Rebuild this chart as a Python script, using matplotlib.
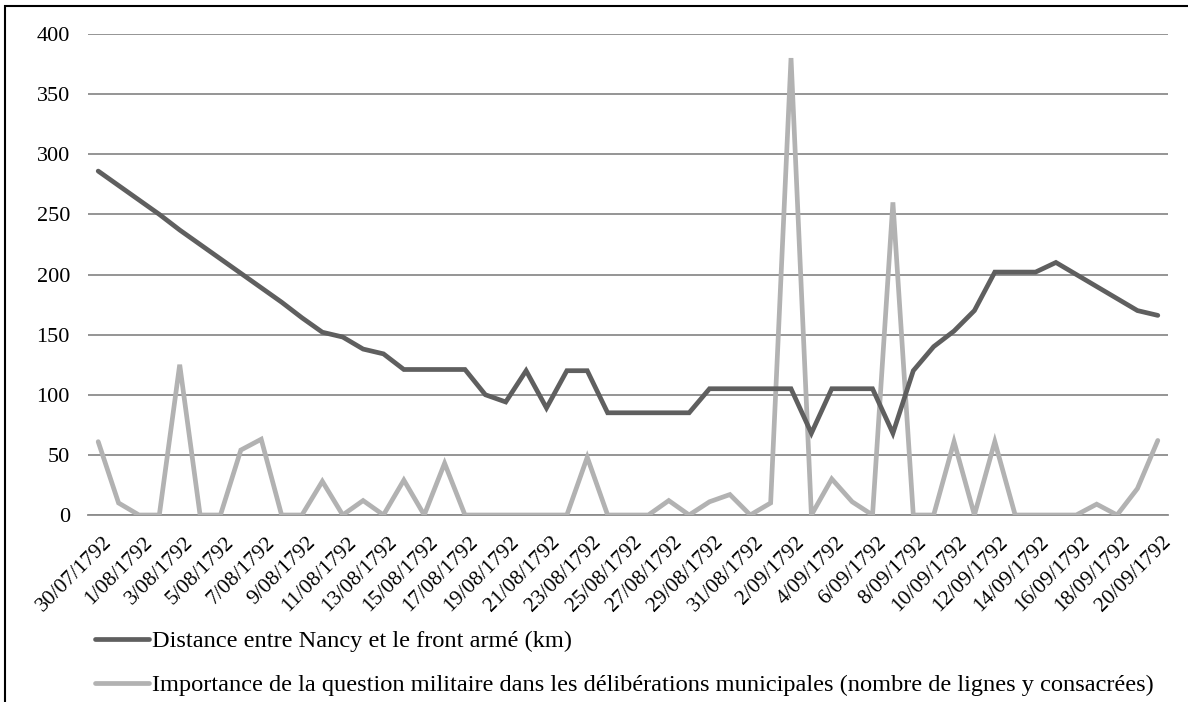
import matplotlib
matplotlib.use("Agg")
import matplotlib.pyplot as plt
import matplotlib.transforms as mtransforms
from matplotlib.lines import Line2D
from matplotlib.patches import Rectangle

dates = ["30/07/1792", "31/07/1792"] + [f"{d}/08/1792" for d in range(1, 32)] + [f"{d}/09/1792" for d in range(1, 21)]

distance = [286, 274, 262, 250, 237, 225, 213, 201, 189, 177, 164, 152, 148, 138, 134,
            121, 121, 121, 121, 100, 94, 120, 89, 120, 120, 85, 85, 85, 85, 85,
            105, 105, 105, 105, 105, 68, 105, 105, 105, 68, 120, 140, 153, 170,
            202, 202, 202, 210, 200, 190, 180, 170, 166]

military = [61, 10, 0, 0, 125, 0, 0, 54, 63, 0, 0, 28, 0, 12, 0, 29, 0, 43, 0, 0,
            0, 0, 0, 0, 48, 0, 0, 0, 12, 0, 11, 17, 0, 10, 380, 0, 30, 11, 0, 260,
            0, 0, 61, 0, 61, 0, 0, 0, 0, 9, 0, 22, 62]

label_distance = "Distance entre Nancy et le front armé (km)"
label_military = "Importance de la question militaire dans les délibérations municipales (nombre de lignes y consacrées)"

yticks = [0, 50, 100, 150, 200, 250, 300, 350, 400]

plt.rcParams['font.family'] = ['Liberation Serif', 'DejaVu Serif']

W, H = 1188, 702
fig = plt.figure(figsize=(W / 100, H / 100), dpi=100)
ax = fig.add_axes([88 / W, 1 - 515 / H, (1168 - 88) / W, (515 - 34) / H])

x = list(range(len(dates)))
dark = "#5f5f5f"
light = "#b2b2b2"
grid = "#8c8c8c"

ax.plot(x, military, color=light, lw=3.4, solid_capstyle="round", solid_joinstyle="miter", zorder=3)
ax.plot(x, distance, color=dark, lw=3.4, solid_capstyle="round", solid_joinstyle="miter", zorder=4)

ax.set_xlim(-0.5, len(dates) - 0.5)
ax.set_ylim(0, 400)
ax.set_yticks(yticks)
ax.set_yticklabels([str(v) for v in yticks], fontsize=16)
ax.yaxis.grid(True, color=grid, lw=1.3)
ax.set_axisbelow(True)
for s in ["top", "right", "left"]:
    ax.spines[s].set_visible(False)
ax.spines["bottom"].set_color(grid)
ax.spines["bottom"].set_linewidth(1.3)
ax.tick_params(axis="y", length=0, pad=13)
ax.tick_params(axis="x", length=0, pad=13)
ax.set_xticks(x[::2])
ax.set_xticklabels(dates[::2], rotation=45, ha="right", va="top", rotation_mode="anchor", fontsize=15.5)
offset = mtransforms.ScaledTranslation(4 / 100, 0, fig.dpi_scale_trans)
for lab in ax.get_xticklabels():
    lab.set_transform(lab.get_transform() + offset)

# legend
handles = [Line2D([0], [0], color=dark, lw=3.4, solid_capstyle="round"),
           Line2D([0], [0], color=light, lw=3.4, solid_capstyle="round")]
fig.legend(handles, [label_distance, label_military], loc="upper left",
           bbox_to_anchor=(95 / W, 1 - 630 / H), frameon=False, fontsize=17.6,
           handlelength=2.2, handletextpad=0.15, labelspacing=0.9, borderaxespad=0,
           borderpad=0)

# figure frame
fig.patches.append(Rectangle((5 / W, -0.05), 1.1, 1 - 6 / H + 0.05, transform=fig.transFigure,
                             fill=False, edgecolor="black", lw=1.5, zorder=10))

fig.savefig("out.png", dpi=100)
